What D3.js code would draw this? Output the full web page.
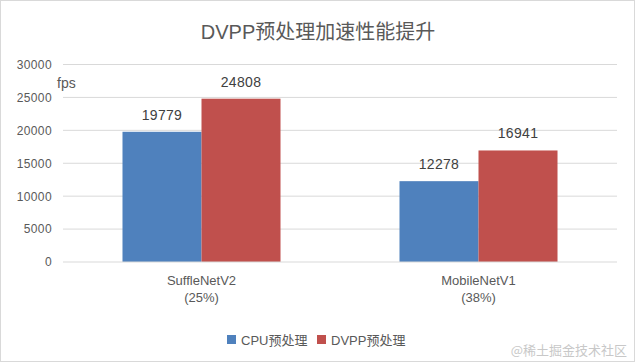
<!DOCTYPE html>
<html>
<head>
<meta charset="utf-8">
<script src="https://cdn.jsdelivr.net/npm/d3@7"></script>
<style>
  body { margin: 0; background: #fff; }
  svg { display: block; font-family: "Liberation Sans", "Noto Sans CJK SC", sans-serif; }
  .tick text { fill: #595959; font-size: 12px; letter-spacing: 0.4px; }
</style>
</head>
<body>
<div id="chart"></div>
<script>
const categories = ['SuffleNetV2', 'MobileNetV1'];
const categorySub = ['(25%)', '(38%)'];
const seriesNames = ['CPU预处理', 'DVPP预处理'];
const cpuValues = [19779, 12278];
const dvppValues = [24808, 16941];
const yTicks = [0, 5000, 10000, 15000, 20000, 25000, 30000];
const colors = ['#4f81bd', '#c0504d'];

const width = 635, height = 363;
const margin = { top: 64.5, right: 18, bottom: 101, left: 63 };
const innerW = width - margin.left - margin.right;
const innerH = height - margin.top - margin.bottom;

const cjk = '"Liberation Sans", "Noto Sans CJK SC", sans-serif';

const svg = d3.select('#chart').append('svg')
  .attr('width', width)
  .attr('height', height);

svg.append('rect')
  .attr('x', 0.5).attr('y', 0.5)
  .attr('width', width - 1).attr('height', height - 2)
  .attr('fill', '#fff')
  .attr('stroke', '#d9d9d9');

svg.append('text')
  .attr('x', 318)
  .attr('y', 39)
  .attr('text-anchor', 'middle')
  .attr('fill', '#595959')
  .style('font-size', '20px')
  .style('font-family', cjk)
  .text('DVPP预处理加速性能提升');

const g = svg.append('g')
  .attr('transform', `translate(${margin.left},${margin.top})`);

const y = d3.scaleLinear().domain([0, 30000]).range([innerH, 0]);
const x0 = d3.scaleBand().domain(categories).range([0, innerW]).padding(0);
const x1 = d3.scaleBand().domain(seriesNames).range([0, x0.bandwidth()])
  .paddingInner(0).paddingOuter(0.753);

// gridlines
g.append('g')
  .selectAll('line')
  .data(yTicks.filter(d => d > 0))
  .join('line')
  .attr('x1', 0).attr('x2', innerW)
  .attr('y1', d => y(d)).attr('y2', d => y(d))
  .attr('stroke', '#d9d9d9');

const yAxis = g.append('g')
  .call(d3.axisLeft(y).tickValues(yTicks).tickSize(0).tickPadding(11).tickFormat(d3.format('d')));
yAxis.select('.domain').remove();

const rows = categories.map((c, i) => ({ cat: c, values: [cpuValues[i], dvppValues[i]] }));

const groups = g.selectAll('.grp')
  .data(rows)
  .join('g')
  .attr('class', 'grp')
  .attr('transform', d => `translate(${x0(d.cat)},0)`);

groups.selectAll('rect')
  .data(d => d.values.map((v, i) => ({ name: seriesNames[i], value: v, i })))
  .join('rect')
  .attr('x', d => x1(d.name))
  .attr('y', d => y(d.value))
  .attr('width', x1.bandwidth())
  .attr('height', d => y(0) - y(d.value))
  .attr('fill', d => colors[d.i]);

groups.selectAll('.val')
  .data(d => d.values.map((v, i) => ({ name: seriesNames[i], value: v })))
  .join('text')
  .attr('class', 'val')
  .attr('x', d => x1(d.name) + x1.bandwidth() / 2)
  .attr('y', d => y(d.value) - 12)
  .attr('text-anchor', 'middle')
  .attr('fill', '#404040')
  .style('font-size', '14px')
  .style('letter-spacing', '0.3px')
  .text(d => d.value);

// baseline
g.append('line')
  .attr('x1', 0).attr('x2', innerW)
  .attr('y1', y(0)).attr('y2', y(0))
  .attr('stroke', '#d9d9d9');

// category labels
const xl = g.selectAll('.xl')
  .data(categories)
  .join('text')
  .attr('class', 'xl')
  .attr('text-anchor', 'middle')
  .attr('fill', '#595959')
  .style('font-size', '13px')
  .attr('transform', d => `translate(${x0(d) + x0.bandwidth() / 2},${innerH + 23})`);
xl.append('tspan').attr('x', 0).attr('y', 0).text(d => d);
xl.append('tspan').attr('x', 0).attr('y', 17).text((d, i) => categorySub[i]);

svg.append('text')
  .attr('x', 57)
  .attr('y', 88)
  .attr('fill', '#595959')
  .style('font-size', '14px')
  .text('fps');

// legend
const legend = svg.append('g').attr('transform', 'translate(227,335)');
const legX = [0, 90];
seriesNames.forEach((s, i) => {
  legend.append('rect')
    .attr('x', legX[i]).attr('y', 0)
    .attr('width', 9).attr('height', 9)
    .attr('fill', colors[i]);
  legend.append('text')
    .attr('x', legX[i] + 14).attr('y', 9.5)
    .attr('fill', '#595959')
    .style('font-size', '13px')
    .style('font-family', cjk)
    .text(s);
});

svg.append('text')
  .attr('x', 627)
  .attr('y', 355)
  .attr('text-anchor', 'end')
  .attr('fill', '#c8c8c8')
  .style('font-size', '13px')
  .style('font-family', '"Noto Sans CJK SC", sans-serif')
  .text('@稀土掘金技术社区');
</script>
</body>
</html>
